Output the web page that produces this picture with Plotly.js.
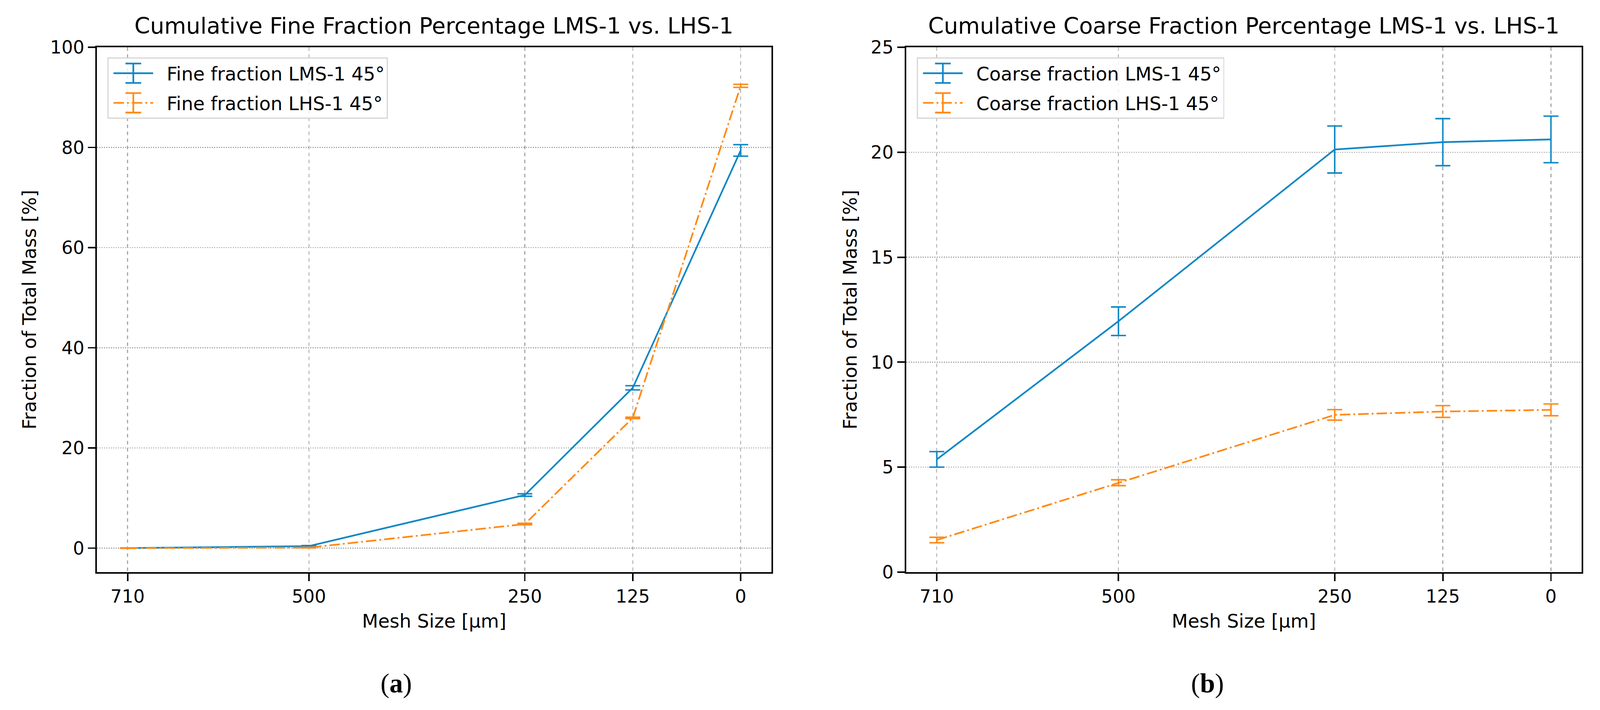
<!DOCTYPE html>
<html>
<head>
<meta charset="utf-8">
<script src="https://cdn.plot.ly/plotly-3.0.1.min.js"></script>
<style>html,body{margin:0;padding:0;background:#fff;overflow:hidden;}#chart{position:absolute;left:0;top:0;}</style>
</head>
<body>
<div id="chart"></div>
<script>
// Mesh sizes (µm)
const meshSizes = [710, 500, 250, 125, 0];
const meshTickLabels = ["710", "500", "250", "125", "0"];

// Panel (a): cumulative fine fraction [%]
const fineLMS = [0.0, 0.4, 10.6, 32.0, 79.4];
const fineLMSErr = [0.05, 0.1, 0.25, 0.42, 1.15];
const fineLHS = [0.0, 0.1, 4.8, 26.0, 92.3];
const fineLHSErr = [0.05, 0.05, 0.15, 0.15, 0.3];

// Panel (b): cumulative coarse fraction [%]
const coarseLMS = [5.37, 11.95, 20.13, 20.48, 20.61];
const coarseLMSErr = [0.37, 0.68, 1.12, 1.12, 1.11];
const coarseLHS = [1.53, 4.26, 7.49, 7.65, 7.73];
const coarseLHSErr = [0.13, 0.14, 0.25, 0.28, 0.28];

const BLUE = '#1187c5';
const ORANGE = '#ff8a17';
const FONT = 'DejaVu Sans, sans-serif';

// Reference canvas size; the actual viewport may differ, so scale sizes.
const RW = 4275, RH = 1818;
const W = document.documentElement.clientWidth || window.innerWidth;
const H = document.documentElement.clientHeight || window.innerHeight;
const s = Math.min(W / RW, H / RH);
const px = v => v * s;

const LW = px(4.5);
const DASHDOT = [28, 8, 5, 8].map(v => px(v).toFixed(1) + 'px').join(',');

function tr(x, y, err, name, color, dash, xa, ya, legend, group) {
  return {
    x: x, y: y, type: 'scatter', mode: 'lines', name: name,
    line: {color: color, width: LW, dash: dash},
    error_y: {type: 'data', array: err, visible: true, color: color, thickness: px(4), width: px(20)},
    xaxis: xa, yaxis: ya, legend: legend, legendgroup: group
  };
}

const data = [
  tr(meshSizes, fineLMS, fineLMSErr, 'Fine fraction LMS-1 45°', BLUE, 'solid', 'x', 'y', 'legend', 'a1'),
  tr(meshSizes, fineLHS, fineLHSErr, 'Fine fraction LHS-1 45°', ORANGE, DASHDOT, 'x', 'y', 'legend', 'a2'),
  tr(meshSizes, coarseLMS, coarseLMSErr, 'Coarse fraction LMS-1 45°', BLUE, 'solid', 'x2', 'y2', 'legend2', 'b1'),
  tr(meshSizes, coarseLHS, coarseLHSErr, 'Coarse fraction LHS-1 45°', ORANGE, DASHDOT, 'x2', 'y2', 'legend2', 'b2')
];

function dx(a, b) { return [a / RW, b / RW]; }
function dy(top, bottom) { return [1 - bottom / RH, 1 - top / RH]; }

const tickFont = {family: FONT, size: px(48), color: '#000'};
function xaxis(domain, anchor) {
  return {
    domain: domain, anchor: anchor, range: [745.5, -35.5],
    tickmode: 'array', tickvals: meshSizes, ticktext: meshTickLabels,
    ticks: 'outside', ticklen: px(20), tickwidth: px(4), tickcolor: '#000',
    showline: true, linecolor: '#000', linewidth: px(4), mirror: true,
    showgrid: true, gridcolor: '#a8a8a8', gridwidth: px(2.5), griddash: 'dash',
    zeroline: false, tickfont: tickFont,
    title: {text: 'Mesh Size [µm]', font: {family: FONT, size: px(50), color: '#000'}, standoff: px(22)}
  };
}
function yaxis(domain, anchor, range, dtick) {
  return {
    domain: domain, anchor: anchor, range: range, tick0: 0, dtick: dtick,
    ticks: 'outside', ticklen: px(20), tickwidth: px(4), tickcolor: '#000',
    showline: true, linecolor: '#000', linewidth: px(4), mirror: true,
    showgrid: true, gridcolor: '#a8a8a8', gridwidth: px(2.5), griddash: 'dot',
    zeroline: false, tickfont: tickFont, ticklabelstandoff: px(10),
    title: {text: 'Fraction of Total Mass [%]', font: {family: FONT, size: px(50), color: '#000'}, standoff: px(22)}
  };
}

const legendStyle = (x) => ({
  x: x, y: 1 - 147 / RH, xanchor: 'left', yanchor: 'top',
  bgcolor: 'rgba(255,255,255,0.8)', bordercolor: '#d6d6d6', borderwidth: px(3),
  font: {family: FONT, size: px(50), color: '#000'}, itemwidth: px(145), tracegroupgap: px(11)
});

const layout = {
  width: W, height: H,
  margin: {l: 0, r: 0, t: 0, b: 0},
  paper_bgcolor: '#fff', plot_bgcolor: '#fff',
  showlegend: true,
  xaxis: xaxis(dx(259, 2061), 'y'),
  yaxis: yaxis(dy(121, 1465), 'x', [-4.8, 100], 20),
  xaxis2: xaxis(dx(2421, 4226), 'y2'),
  yaxis2: yaxis(dy(121, 1465), 'x2', [0, 25], 5),
  legend: legendStyle(287 / RW),
  legend2: legendStyle(2450 / RW),
  annotations: [
    {text: 'Cumulative Fine Fraction Percentage LMS-1 vs. LHS-1', xref: 'paper', yref: 'paper',
     x: 1160 / RW, y: 1 - 67 / RH, xanchor: 'center', yanchor: 'middle', showarrow: false,
     font: {family: FONT, size: px(60), color: '#000'}},
    {text: 'Cumulative Coarse Fraction Percentage LMS-1 vs. LHS-1', xref: 'paper', yref: 'paper',
     x: 3323 / RW, y: 1 - 67 / RH, xanchor: 'center', yanchor: 'middle', showarrow: false,
     font: {family: FONT, size: px(60), color: '#000'}},
    {text: '(<b>a</b>)', xref: 'paper', yref: 'paper', x: 1058 / RW, y: 1 - 1750 / RH,
     xanchor: 'center', yanchor: 'middle', showarrow: false,
     font: {family: 'Liberation Serif, serif', size: px(72), color: '#000'}},
    {text: '(<b>b</b>)', xref: 'paper', yref: 'paper', x: 3226 / RW, y: 1 - 1750 / RH,
     xanchor: 'center', yanchor: 'middle', showarrow: false,
     font: {family: 'Liberation Serif, serif', size: px(72), color: '#000'}}
  ]
};

Plotly.newPlot('chart', data, layout, {displayModeBar: false, staticPlot: true}).then(gd => {
  // Shape the legend symbols like the reference: a shorter line with an error-bar glyph.
  gd.querySelectorAll('.legendlines path.js-line').forEach(line => {
    const bb = line.getBBox();
    const x0 = bb.x + px(8);
    const len = px(106);
    line.setAttribute('d', `M${x0},0h${len}`);
    const cx = x0 + len / 2;
    const color = line.style.stroke;
    const h = px(26), cw = px(21);
    const p = document.createElementNS('http://www.w3.org/2000/svg', 'path');
    p.setAttribute('d', `M${cx},${-h}V${h}M${cx - cw},${-h}H${cx + cw}M${cx - cw},${h}H${cx + cw}`);
    p.setAttribute('style', `stroke:${color};stroke-width:${px(4.5)};fill:none`);
    line.parentNode.appendChild(p);
  });
});
</script>
</body>
</html>
